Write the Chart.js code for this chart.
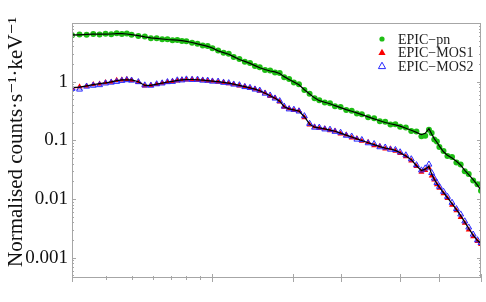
<!DOCTYPE html>
<html>
<head>
<meta charset="utf-8">
<script src="https://cdn.jsdelivr.net/npm/chart.js@4.4.1/dist/chart.umd.min.js"></script>
<style>
html, body { margin: 0; padding: 0; background: #fff; }
#wrap { width: 486px; height: 302px; }
</style>
</head>
<body>
<div id="wrap"><canvas id="myChart" width="486" height="302"></canvas></div>
<script>
// energy bins (keV)
const energy = [0.30,0.32,0.34,0.36,0.38,0.40,0.42,0.44,0.46,0.48,0.50,0.53,0.56,0.59,0.62,0.65,0.68,0.71,0.74,0.77,
  0.80,0.84,0.88,0.92,0.96,1.00,1.05,1.10,1.15,1.20,1.26,1.32,1.38,1.44,1.50,1.57,1.64,1.71,1.78,1.85,
  1.93,2.01,2.10,2.20,2.30,2.40,2.50,2.62,2.74,2.86,3.00,3.15,3.30,3.45,3.60,3.80,4.00,4.20,4.40,4.60,
  4.80,5.00,5.25,5.50,5.75,6.00,6.20,6.40,6.55,6.70,6.85,7.00,7.25,7.50,7.80,8.10,8.40,8.70,9.00,9.35,9.70,10.0];

const pn_counts = [6.2,6.35,6.3,6.5,6.4,6.55,6.45,6.7,6.5,6.6,6.3,6.0,5.9,5.5,5.5,5.3,5.3,5.1,5.15,4.95,
  4.9,4.6,4.45,4.15,4.05,3.7,3.4,3.1,2.98,2.63,2.43,2.18,2.08,1.85,1.76,1.58,1.55,1.44,1.40,1.19,
  1.11,0.97,0.90,0.72,0.625,0.52,0.485,0.44,0.43,0.38,0.37,0.33,0.32,0.288,0.28,0.247,0.238,0.211,0.207,0.186,
  0.189,0.17,0.165,0.144,0.141,0.118,0.12,0.152,0.133,0.104,0.096,0.077,0.066,0.054,0.052,0.042,0.039,0.0298,0.0268,0.0207,0.0178,0.0138];

const pn_model = [6.3,6.3,6.4,6.45,6.45,6.45,6.5,6.57,6.57,6.5,6.35,6.1,5.8,5.58,5.46,5.34,5.23,5.15,5.09,4.99,
  4.86,4.65,4.4,4.2,4.0,3.75,3.35,3.13,2.94,2.67,2.39,2.22,2.05,1.88,1.73,1.61,1.52,1.47,1.38,1.22,
  1.09,0.99,0.885,0.73,0.615,0.53,0.475,0.447,0.42,0.39,0.362,0.335,0.314,0.294,0.275,0.252,0.232,0.216,0.202,0.192,
  0.184,0.175,0.161,0.149,0.137,0.125,0.132,0.158,0.128,0.107,0.093,0.08,0.064,0.056,0.05,0.044,0.0378,0.0308,0.026,0.0214,0.0173,0.0142];

const mos1_counts = [0.78,0.82,0.84,0.9,0.92,0.97,0.99,1.06,1.08,1.1,1.06,0.98,0.85,0.87,0.9,0.95,0.98,1.02,1.04,1.08,
  1.08,1.1,1.07,1.07,1.03,1.03,0.99,0.98,0.93,0.91,0.855,0.83,0.775,0.75,0.69,0.645,0.565,0.53,0.455,0.37,
  0.35,0.325,0.32,0.245,0.185,0.171,0.16,0.159,0.147,0.145,0.13,0.125,0.111,0.108,0.097,0.093,0.082,0.08,0.072,0.0725,
  0.066,0.06,0.053,0.045,0.036,0.029,0.031,0.034,0.025,0.0212,0.0176,0.0154,0.0124,0.0103,0.0079,0.0064,0.0049,0.0039,0.0030,0.0023,0.0019,0.0017];

const mos2_counts = [0.76,0.74,0.83,0.86,0.88,0.94,0.97,1.0,1.04,1.07,1.05,0.99,0.87,0.86,0.91,0.94,0.99,1.0,1.06,1.06,
  1.1,1.08,1.09,1.05,1.05,1.01,1.01,0.965,0.95,0.9,0.875,0.815,0.79,0.74,0.71,0.63,0.585,0.52,0.47,0.38,
  0.34,0.335,0.313,0.26,0.193,0.166,0.166,0.155,0.153,0.141,0.136,0.121,0.117,0.104,0.102,0.09,0.087,0.077,0.076,0.07,
  0.069,0.063,0.056,0.048,0.038,0.031,0.0335,0.039,0.028,0.0225,0.019,0.0163,0.0134,0.011,0.0087,0.0068,0.0055,0.0042,0.0033,0.0025,0.0020,0.0018];

const mos_model = [0.79,0.806,0.851,0.889,0.928,0.958,0.996,1.04,1.07,1.08,1.07,1.0,0.862,0.865,0.906,0.946,0.988,1.01,1.05,1.07,
  1.09,1.09,1.08,1.065,1.04,1.02,1.0,0.973,0.943,0.906,0.865,0.822,0.784,0.745,0.70,0.637,0.575,0.524,0.465,0.375,
  0.344,0.33,0.317,0.253,0.189,0.168,0.163,0.157,0.150,0.143,0.133,0.123,0.114,0.106,0.0996,0.0913,0.0845,0.0784,0.0739,0.0714,
  0.0676,0.0617,0.0542,0.0469,0.037,0.0305,0.0323,0.0363,0.0266,0.0218,0.0183,0.0159,0.0129,0.0106,0.00835,0.0066,0.00522,0.00404,0.00315,0.00243,0.00196,0.00177];

const series_names = ['EPIC\u2212pn', 'EPIC\u2212MOS1', 'EPIC\u2212MOS2'];
const y_title = 'Normalised counts\u00b7s\u207b\u00b9\u00b7keV\u207b\u00b9';
const y_tick_labels = [0.001, 0.01, 0.1, 1];
const x_major_ticks = [0.3, 1, 2, 3, 5, 7, 10];
const x_minor_ticks = [0.4, 0.5, 0.6, 0.7, 0.8, 0.9];

const green = 'rgb(30, 190, 20)';
const red = 'rgb(250, 0, 0)';
const blue = 'rgb(40, 40, 255)';
const frame_color = '#a6a6a6';
const serif = "'Liberation Serif', 'DejaVu Serif', serif";

function points(vals) {
    return energy.map((e, i) => ({ x: e, y: vals[i] }));
}

// frame + inward ticks, Mathematica style
const frame_plugin = {
    id: 'frame',
    afterDraw(chart) {
        const { ctx, chartArea: a, scales } = chart;
        const xs = scales.x, ys = scales.y;
        ctx.save();
        ctx.strokeStyle = frame_color;
        ctx.lineWidth = 1;
        ctx.strokeRect(a.left + 0.5, a.top + 0.5, a.right - a.left - 1, a.bottom - a.top);

        ctx.beginPath();
        x_major_ticks.forEach(v => {
            const px = Math.round(xs.getPixelForValue(v)) + 0.5;
            ctx.moveTo(px, a.bottom - 3); ctx.lineTo(px, a.bottom + 5);
        });
        x_minor_ticks.forEach(v => {
            const px = Math.round(xs.getPixelForValue(v)) + 0.5;
            ctx.moveTo(px, a.bottom - 1); ctx.lineTo(px, a.bottom + 3);
        });
        for (let d = -4; d <= 1; d++) {
            for (let m = 1; m <= 9; m++) {
                const v = m * Math.pow(10, d);
                if (v < ys.min || v > ys.max) continue;
                const py = Math.round(ys.getPixelForValue(v)) + 0.5;
                const len = m === 1 ? 4 : 2;
                ctx.moveTo(a.left, py); ctx.lineTo(a.left + len, py);
                ctx.moveTo(a.right, py); ctx.lineTo(a.right - len, py);
            }
        }
        ctx.stroke();

        // rotated axis title, centred a little above the plot middle like the original
        ctx.fillStyle = '#111';
        ctx.font = '21px ' + serif;
        ctx.textAlign = 'center';
        ctx.textBaseline = 'middle';
        ctx.translate(16, 142);
        ctx.rotate(-Math.PI / 2);
        ctx.fillText(y_title, 0, 0);
        ctx.restore();
    }
};

// horizontal error bars: each point spans its energy bin (half way to the neighbours)
const errbar_plugin = {
    id: 'errbars',
    beforeDatasetsDraw(chart) {
        const { ctx, chartArea: a, scales } = chart;
        const xs = scales.x, ys = scales.y;
        const sets = [[pn_counts, 'rgba(30,190,20,0.45)'], [mos1_counts, 'rgba(255,60,60,0.45)'], [mos2_counts, 'rgba(60,60,255,0.4)']];
        ctx.save();
        ctx.beginPath(); ctx.rect(a.left, a.top, a.right - a.left, a.bottom - a.top); ctx.clip();
        ctx.lineWidth = 1;
        sets.forEach(([vals, col]) => {
            ctx.strokeStyle = col;
            ctx.beginPath();
            energy.forEach((e, i) => {
                const lo = i > 0 ? (xs.getPixelForValue(energy[i - 1]) + xs.getPixelForValue(e)) / 2 : xs.getPixelForValue(e) - 3;
                const hi = i < energy.length - 1 ? (xs.getPixelForValue(energy[i + 1]) + xs.getPixelForValue(e)) / 2 : xs.getPixelForValue(e) + 3;
                const py = Math.round(ys.getPixelForValue(vals[i])) + 0.5;
                ctx.moveTo(lo, py); ctx.lineTo(hi, py);
            });
            ctx.stroke();
        });
        ctx.restore();
    }
};

const legend_plugin = {
    id: 'myLegend',
    afterDraw(chart) {
        const ctx = chart.ctx;
        const mx = 382, tx = 398;
        const rows = [39, 52.5, 66];
        ctx.save();
        ctx.fillStyle = green;
        ctx.beginPath(); ctx.arc(mx, rows[0], 2.6, 0, Math.PI * 2); ctx.fill();
        ctx.fillStyle = red;
        ctx.beginPath();
        ctx.moveTo(mx, rows[1] - 3.8); ctx.lineTo(mx + 3.6, rows[1] + 2.6); ctx.lineTo(mx - 3.6, rows[1] + 2.6);
        ctx.closePath(); ctx.fill();
        ctx.strokeStyle = blue; ctx.lineWidth = 1;
        ctx.beginPath();
        ctx.moveTo(mx, rows[2] - 3.8); ctx.lineTo(mx + 3.6, rows[2] + 2.6); ctx.lineTo(mx - 3.6, rows[2] + 2.6);
        ctx.closePath(); ctx.stroke();

        ctx.fillStyle = '#222';
        ctx.font = '14px ' + serif;
        ctx.textBaseline = 'middle';
        series_names.forEach((n, i) => ctx.fillText(n, tx, rows[i] + 1));
        ctx.restore();
    }
};

const ctx = document.getElementById('myChart').getContext('2d');

const chart = new Chart(ctx, {
    type: 'scatter',
    data: {
        datasets: [
            {
                label: 'pn model', data: points(pn_model), showLine: true,
                borderColor: '#000', borderWidth: 1.2, pointRadius: 0, order: 0
            },
            {
                label: 'mos model', data: points(mos_model), showLine: true,
                borderColor: '#000', borderWidth: 1.2, pointRadius: 0, order: 0
            },
            {
                label: series_names[2], data: points(mos2_counts),
                pointStyle: 'triangle', pointRadius: 3.4, borderWidth: 1,
                borderColor: blue, backgroundColor: 'rgba(0,0,0,0)', order: 1
            },
            {
                label: series_names[1], data: points(mos1_counts),
                pointStyle: 'triangle', pointRadius: 3.4, borderWidth: 0,
                backgroundColor: red, borderColor: red, order: 2
            },
            {
                label: series_names[0], data: points(pn_counts),
                pointStyle: 'circle', pointRadius: 3, borderWidth: 0,
                backgroundColor: green, borderColor: green, order: 3
            }
        ]
    },
    options: {
        responsive: false,
        animation: false,
        devicePixelRatio: 1,
        layout: { padding: { top: 23, right: 2, left: 0, bottom: 0 } },
        plugins: {
            legend: { display: false },
            tooltip: { enabled: false }
        },
        scales: {
            x: {
                type: 'logarithmic',
                min: 0.3,
                max: 10,
                grid: { display: false, drawTicks: false },
                border: { display: false },
                ticks: { display: false },
                afterFit: (scale) => { scale.height = 25; }
            },
            y: {
                type: 'logarithmic',
                min: 0.00047,
                max: 10,
                grid: { display: false, drawTicks: false },
                border: { display: false },
                afterBuildTicks: (scale) => {
                    scale.ticks = y_tick_labels.map(v => ({ value: v }));
                },
                ticks: {
                    autoSkip: false,
                    padding: 4,
                    color: '#111',
                    font: { family: serif, size: 19 },
                    callback: (v) => String(v)
                },
                afterFit: (scale) => { scale.width = 72; }
            }
        }
    },
    plugins: [errbar_plugin, frame_plugin, legend_plugin]
});
</script>
</body>
</html>
